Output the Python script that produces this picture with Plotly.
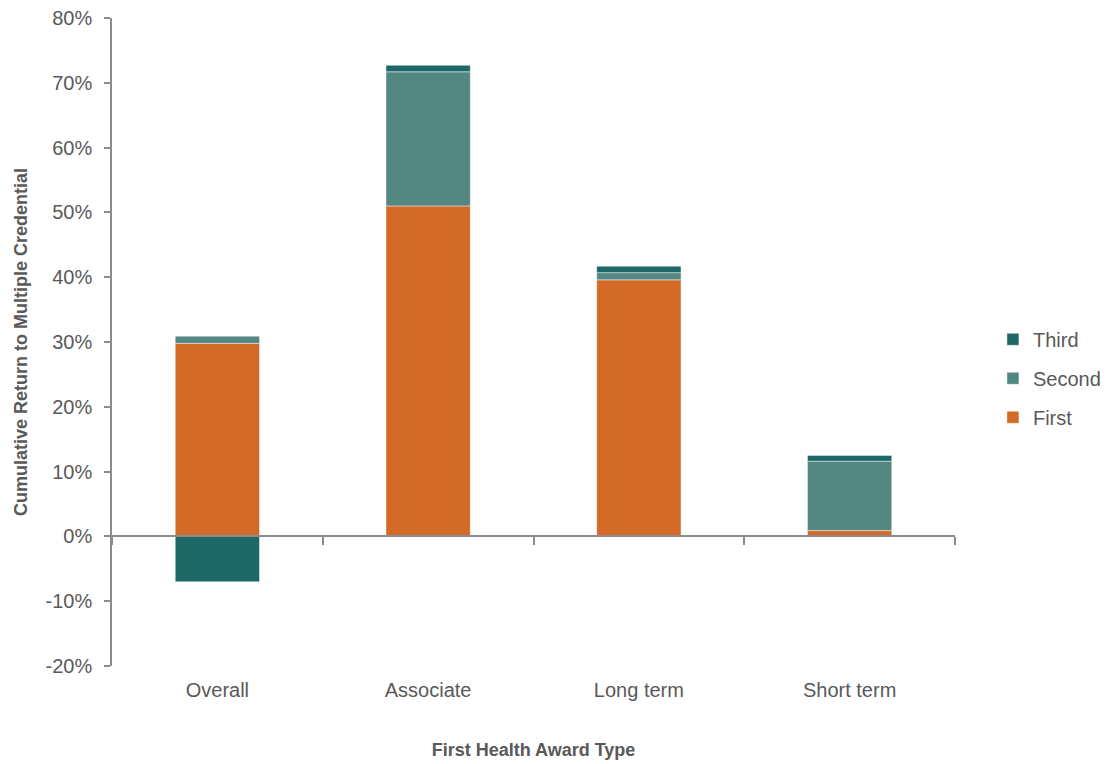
import plotly.graph_objects as go

categories = ["Overall", "Associate", "Long term", "Short term"]
first_vals = [29.8, 51.0, 39.6, 0.9]
second_vals = [1.1, 20.7, 1.1, 10.7]
third_vals = [-7.0, 1.0, 1.0, 0.9]
y_ticks = [-20, -10, 0, 10, 20, 30, 40, 50, 60, 70, 80]
y_tick_labels = [f"{v}%" for v in y_ticks]

series = [
    ("First", first_vals, "#D46A27", 3),
    ("Second", second_vals, "#528782", 2),
    ("Third", third_vals, "#1F6868", 1),
]

FONT = "Liberation Sans, Arial, sans-serif"
GRAY = "#8C8C8C"
TXT = "#595959"

fig = go.Figure()
for name, vals, col, rank in series:
    fig.add_trace(go.Bar(
        x=categories, y=vals, name=name, legendgroup=name, legendrank=rank,
        marker=dict(color=col, line=dict(color="rgba(255,255,255,0.6)", width=0.75)),
    ))

# invisible helper trace so the zero-level axis is drawn
fig.add_trace(go.Scatter(x=categories, y=[0] * len(categories), xaxis="x2",
                         mode="lines", line=dict(width=0), showlegend=False,
                         hoverinfo="skip"))

fig.update_layout(
    width=1105, height=764,
    barmode="relative", bargap=0.6,
    plot_bgcolor="white", paper_bgcolor="white",
    margin=dict(l=112, r=150, t=18, b=98, autoexpand=False),
    font=dict(family=FONT, size=20, color=TXT),
    xaxis=dict(
        type="category", showline=False, ticks="", showgrid=False, zeroline=False,
        ticklabelstandoff=10,
        title=dict(text="<b>First Health Award Type</b>", font=dict(size=18, color=TXT), standoff=43),
    ),
    xaxis2=dict(
        matches="x", overlaying="x", anchor="free", position=0.2,
        showticklabels=False, showline=True, linecolor=GRAY, linewidth=1.5,
        ticks="outside", tickson="boundaries", ticklen=8, tickcolor=GRAY, tickwidth=1.5,
        showgrid=False, zeroline=False,
    ),
    yaxis=dict(
        range=[-20, 80], tickmode="array", tickvals=y_ticks, ticktext=y_tick_labels,
        showgrid=False, zeroline=False,
        showline=True, linecolor=GRAY, linewidth=1.5,
        ticks="outside", ticklen=6, tickcolor=GRAY, tickwidth=1.5,
        ticklabelstandoff=8,
        title=dict(text="<b>Cumulative Return to Multiple Credential</b>",
                   font=dict(size=18, color=TXT), standoff=13),
    ),
    legend=dict(
        x=1.045, y=0.444, xanchor="left", yanchor="middle",
        traceorder="grouped", tracegroupgap=10,
        font=dict(size=20, color=TXT), bgcolor="rgba(0,0,0,0)",
    ),
)

fig.write_html("out.html")
